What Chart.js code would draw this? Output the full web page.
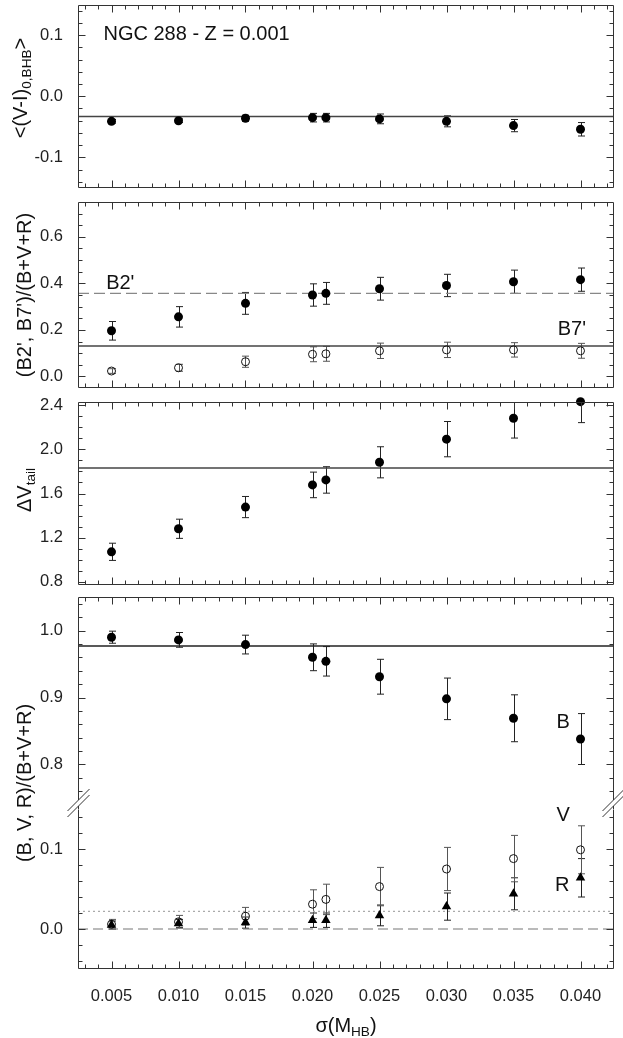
<!DOCTYPE html>
<html>
<head>
<meta charset="utf-8">
<script src="https://cdn.jsdelivr.net/npm/chart.js@4.4.1/dist/chart.umd.min.js"></script>
<style>
  html, body { margin: 0; padding: 0; background: #fff; }
  #fig { position: relative; width: 623px; height: 1038px; overflow: hidden;
         font-family: "Liberation Sans", Arial, sans-serif; color: #111; }
  #fig canvas { position: absolute; left: 0; }
  .ytitle { position: absolute; white-space: nowrap; font-size: 20px; line-height: 1;
            transform: translate(-50%, -50%) rotate(-90deg); }
  .xtitle { position: absolute; white-space: nowrap; font-size: 20px; line-height: 1;
            transform: translate(-50%, -50%); }
  sub { font-size: 68%; vertical-align: -0.3em; line-height: 0; }
</style>
</head>
<body>
<div id="fig">
  <canvas id="c1" width="623" height="195" style="top:0px"></canvas>
  <canvas id="c2" width="623" height="200" style="top:195px"></canvas>
  <canvas id="c3" width="623" height="196" style="top:395px"></canvas>
  <canvas id="c4" width="623" height="229" style="top:591px"></canvas>
  <canvas id="c5" width="623" height="235" style="top:803px"></canvas>

  <div class="ytitle" style="left:20px; top:88px">&lt;(V-I)<sub>0,BHB</sub>&gt;</div>
  <div class="ytitle" style="left:24px; top:295px">(B2', B7')/(B+V+R)</div>
  <div class="ytitle" style="left:24px; top:490px">&Delta;V<sub>tail</sub></div>
  <div class="ytitle" style="left:24px; top:783px">(B, V, R)/(B+V+R)</div>
  <div class="xtitle" style="left:346px; top:1025px">&sigma;(M<sub>HB</sub>)</div>
</div>
<script>
// sigma(M_HB) of the synthetic HBs
const sigmaMHB = [0.005, 0.010, 0.015, 0.020, 0.021, 0.025, 0.030, 0.035, 0.040];
const xTicks = [0.005, 0.010, 0.015, 0.020, 0.025, 0.030, 0.035, 0.040];

// <(V-I)0> of the blue HB
const viBHB    = [-0.041, -0.040, -0.036, -0.035, -0.035, -0.037, -0.041, -0.048, -0.054];
const viBHBErr = [0.003, 0.003, 0.005, 0.007, 0.007, 0.008, 0.009, 0.010, 0.011];
const viBHBObs = -0.033;
const viTicks  = [-0.1, 0.0, 0.1];

// B2' and B7' fractions
const b2Frac = [0.196, 0.256, 0.314, 0.350, 0.357, 0.377, 0.391, 0.407, 0.416];
const b2Err  = [0.040, 0.044, 0.047, 0.048, 0.047, 0.049, 0.048, 0.050, 0.050];
const b7Frac = [0.023, 0.037, 0.063, 0.095, 0.097, 0.110, 0.114, 0.114, 0.110];
const b7Err  = [0.010, 0.015, 0.024, 0.032, 0.032, 0.033, 0.033, 0.031, 0.032];
const b2Obs = 0.357;
const b7Obs = 0.131;
const fracTicks = [0.0, 0.2, 0.4, 0.6];

// Delta V tail
const dVtail    = [1.071, 1.280, 1.477, 1.678, 1.723, 1.883, 2.093, 2.283, 2.433];
const dVtailErr = [0.078, 0.087, 0.096, 0.116, 0.120, 0.141, 0.160, 0.180, 0.190];
const dVtailObs = 1.832;
const dVTicks   = [0.8, 1.2, 1.6, 2.0, 2.4];

// B, V, R fractions
const bFrac = [0.990, 0.986, 0.979, 0.960, 0.954, 0.931, 0.898, 0.869, 0.838];
const bErr  = [0.009, 0.011, 0.014, 0.020, 0.022, 0.026, 0.031, 0.035, 0.038];
const vFrac = [0.006, 0.009, 0.016, 0.031, 0.037, 0.053, 0.075, 0.088, 0.099];
const vErr  = [0.006, 0.008, 0.011, 0.018, 0.019, 0.024, 0.027, 0.029, 0.030];
const rFrac = [0.005, 0.007, 0.008, 0.011, 0.011, 0.017, 0.028, 0.044, 0.064];
const rErr  = [0.005, 0.005, 0.007, 0.009, 0.009, 0.013, 0.017, 0.020, 0.024];
const bObs = 0.977;
const rObs = 0.000;
const vObs = 0.022;
const bTicks  = [0.8, 0.9, 1.0];
const vrTicks = [0.0, 0.1];

const X_MIN = 0.0025, X_MAX = 0.0425;
const FONT = '"Liberation Sans", Arial, sans-serif';

const pts = ys => sigmaMHB.map((x, i) => ({ x, y: ys[i] }));

function refLine(v, color, width, dash) {
  return { data: [{ x: X_MIN, y: v }, { x: X_MAX, y: v }], showLine: true, pointRadius: 0,
           borderColor: color, borderWidth: width, borderDash: dash || [], order: 2 };
}
function marks(ys, errs, style) {
  const ds = { data: pts(ys), errors: errs, errColor: '#222', pointRadius: 4.5, pointStyle: 'circle',
               backgroundColor: '#000', borderColor: '#000', borderWidth: 0, clip: false, order: 1 };
  if (style === 'open') {
    Object.assign(ds, { backgroundColor: 'rgba(0,0,0,0)', borderColor: '#111', borderWidth: 1, pointRadius: 4, errColor: '#555' });
  }
  if (style === 'tri') {
    Object.assign(ds, { pointStyle: 'triangle', pointRadius: 5.5 });
  }
  return ds;
}

// vertical error bars with caps, drawn under the markers
const errorBars = {
  id: 'errorBars',
  beforeDatasetsDraw(chart) {
    const { ctx, chartArea: a, scales: { x, y } } = chart;
    ctx.save();
    ctx.beginPath();
    ctx.rect(a.left, a.top, a.right - a.left, a.bottom - a.top);
    ctx.clip();
    ctx.lineWidth = 1;
    chart.data.datasets.forEach(ds => {
      if (!ds.errors) return;
      ctx.strokeStyle = ds.errColor;
      ds.data.forEach((p, i) => {
        const px = Math.round(x.getPixelForValue(p.x)) + 0.5;
        const y1 = y.getPixelForValue(p.y + ds.errors[i]);
        const y2 = y.getPixelForValue(p.y - ds.errors[i]);
        ctx.beginPath();
        ctx.moveTo(px, y1); ctx.lineTo(px, y2);
        ctx.moveTo(px - 3.5, y1); ctx.lineTo(px + 3.5, y1);
        ctx.moveTo(px - 3.5, y2); ctx.lineTo(px + 3.5, y2);
        ctx.stroke();
      });
    });
    ctx.restore();
  }
};

// box frame with inward major/minor ticks, optional axis break
const frame = {
  id: 'frame',
  afterDatasetsDraw(chart, args, o) {
    const { ctx, chartArea: a, scales: { x, y } } = chart;
    const L = Math.round(a.left) + 0.5, R = Math.round(a.right) - 0.5;
    const T = Math.round(a.top) + 0.5, B = Math.round(a.bottom) - 0.5;
    ctx.save();
    ctx.strokeStyle = '#333';
    ctx.lineWidth = 1;
    ctx.beginPath();
    if (!o.openTop) { ctx.moveTo(L, T); ctx.lineTo(R, T); }
    if (!o.openBottom) { ctx.moveTo(L, B); ctx.lineTo(R, B); }
    [L, R].forEach(sx => {
      if (o.breakAt) {
        ctx.moveTo(sx, T); ctx.lineTo(sx, o.breakAt - 3);
        ctx.moveTo(sx, o.breakAt + 3); ctx.lineTo(sx, o.lineBottom);
        [-3, 3].forEach(d => {
          ctx.moveTo(sx - 11, o.breakAt + d + 11);
          ctx.lineTo(sx + 11, o.breakAt + d - 11);
        });
      } else {
        ctx.moveTo(sx, T); ctx.lineTo(sx, B);
      }
    });
    ctx.stroke();

    const isMajor = (v, majors, step) => majors.some(m => Math.abs(m - v) < step / 100);
    ctx.beginPath();
    // x ticks every 0.001, majors from xTicks
    const xs = 0.001;
    for (let k = Math.ceil(X_MIN / xs); k * xs <= X_MAX; k++) {
      const v = k * xs;
      const px = Math.round(x.getPixelForValue(v)) + 0.5;
      const len = isMajor(v, xTicks, xs) ? 7 : 4;
      if (!o.openTop) { ctx.moveTo(px, T); ctx.lineTo(px, T + len); }
      if (!o.openBottom) { ctx.moveTo(px, B); ctx.lineTo(px, B - len); }
    }
    // y ticks
    const ys = o.minor;
    for (let k = Math.ceil(y.min / ys - 1e-6); k * ys <= y.max + 1e-9; k++) {
      const v = k * ys;
      const py = Math.round(y.getPixelForValue(v)) + 0.5;
      if (py < a.top + 1 || py > a.bottom - 1) continue;
      const len = isMajor(v, o.majors, ys) ? 7 : 4;
      ctx.moveTo(L, py); ctx.lineTo(L + len, py);
      ctx.moveTo(R, py); ctx.lineTo(R - len, py);
    }
    ctx.stroke();
    ctx.restore();
  }
};

// text labels placed in data coordinates
const notes = {
  id: 'notes',
  afterDatasetsDraw(chart, args, o) {
    const { ctx, scales: { x, y } } = chart;
    ctx.save();
    ctx.fillStyle = '#111';
    ctx.font = '20px ' + FONT;
    ctx.textAlign = 'left';
    ctx.textBaseline = 'middle';
    (o.items || []).forEach(n => ctx.fillText(n.text, x.getPixelForValue(n.x), y.getPixelForValue(n.y)));
    ctx.restore();
  }
};

function panel(id, c) {
  const xScale = c.showX ? {
    type: 'linear', min: X_MIN, max: X_MAX,
    grid: { display: false }, border: { display: false },
    afterBuildTicks: s => { s.ticks = xTicks.map(v => ({ value: v })); },
    afterFit: s => { s.height = 69; s.paddingLeft = 0; s.paddingRight = 0; },
    ticks: { padding: 10, autoSkip: false, maxRotation: 0, color: '#222',
             font: { family: FONT, size: 16.5 }, callback: v => v.toFixed(3) }
  } : { type: 'linear', min: X_MIN, max: X_MAX, display: false };

  return new Chart(document.getElementById(id), {
    type: 'scatter',
    data: { datasets: c.datasets },
    options: {
      responsive: false,
      animation: false,
      events: [],
      layout: { padding: { top: c.padTop, bottom: c.padBottom, left: 0, right: 9 } },
      plugins: {
        legend: { display: false },
        tooltip: { enabled: false },
        frame: Object.assign({ majors: c.yTicks, minor: c.minor }, c.frame || {}),
        notes: { items: c.notes || [] }
      },
      scales: {
        x: xScale,
        y: {
          type: 'linear', min: c.yMin, max: c.yMax,
          grid: { display: false }, border: { display: false },
          afterBuildTicks: s => { s.ticks = c.yTicks.map(v => ({ value: v })); },
          afterFit: s => { s.width = 78; s.paddingTop = 0; s.paddingBottom = 0; },
          ticks: { padding: 7, color: '#222', font: { family: FONT, size: 16.5 },
                   callback: v => v.toFixed(1) }
        }
      }
    },
    plugins: [errorBars, frame, notes]
  });
}

panel('c1', {
  padTop: 3, padBottom: 7, yMin: -0.15, yMax: 0.15, yTicks: viTicks, minor: 0.02,
  datasets: [marks(viBHB, viBHBErr), refLine(viBHBObs, '#444', 1.5)],
  notes: [{ text: 'NGC 288 - Z = 0.001', x: 0.0044, y: 0.101 }]
});

panel('c2', {
  padTop: 7, padBottom: 7, yMin: -0.05, yMax: 0.75, yTicks: fracTicks, minor: 0.05,
  datasets: [marks(b2Frac, b2Err), marks(b7Frac, b7Err, 'open'),
             refLine(b2Obs, '#888', 1.2, [11, 5]), refLine(b7Obs, '#444', 1.5)],
  notes: [{ text: "B2'", x: 0.0046, y: 0.40 }, { text: "B7'", x: 0.0383, y: 0.20 }]
});

panel('c3', {
  padTop: 7, padBottom: 6, yMin: 0.77, yMax: 2.43, yTicks: dVTicks, minor: 0.1,
  datasets: [marks(dVtail, dVtailErr), refLine(dVtailObs, '#444', 1.5)]
});

panel('c4', {
  padTop: 6, padBottom: 22, yMin: 0.75, yMax: 1.05, yTicks: bTicks, minor: 0.02,
  frame: { openBottom: true, breakAt: 212, lineBottom: 218 },
  datasets: [marks(bFrac, bErr), refLine(bObs, '#222', 1.5)],
  notes: [{ text: 'B', x: 0.0382, y: 0.862 }]
});

panel('c5', {
  padTop: 6, padBottom: 0, yMin: -0.05, yMax: 0.15, yTicks: vrTicks, minor: 0.02, showX: true,
  frame: { openTop: true },
  datasets: [marks(rFrac, rErr, 'tri'), marks(vFrac, vErr, 'open'),
             refLine(rObs, '#777', 1.2, [10, 5]), refLine(vObs, '#aaa', 1.2, [2, 3])],
  notes: [{ text: 'V', x: 0.0382, y: 0.142 }, { text: 'R', x: 0.0381, y: 0.054 }]
});
</script>
</body>
</html>
